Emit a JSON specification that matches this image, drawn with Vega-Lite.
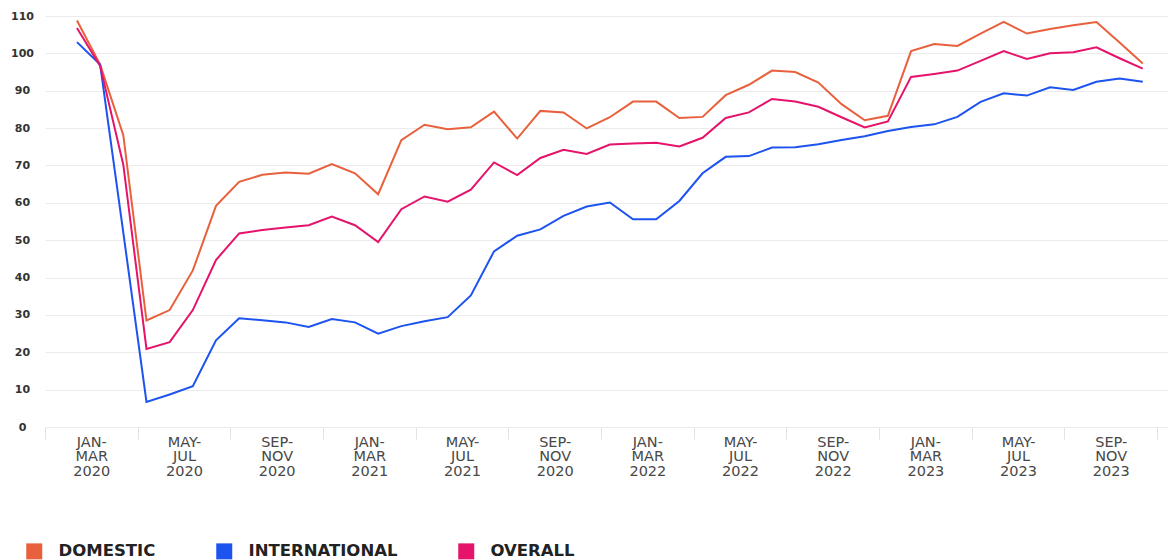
{
  "$schema": "https://vega.github.io/schema/vega-lite/v6.json",
  "autosize": {"type": "none"},
  "padding": {"left": 45, "top": 16, "right": 0, "bottom": 133},
  "width": 1123,
  "height": 411,
  "background": "white",
  "config": {
    "view": {"stroke": null},
    "font": "DejaVu Sans"
  },
  "data": {
    "values": [
      {"m": 0, "DOMESTIC": 108.8, "INTERNATIONAL": 103.0, "OVERALL": 106.8},
      {"m": 1, "DOMESTIC": 97.0, "INTERNATIONAL": 97.0, "OVERALL": 96.6},
      {"m": 2, "DOMESTIC": 78.1, "INTERNATIONAL": 52.0, "OVERALL": 70.2},
      {"m": 3, "DOMESTIC": 28.5, "INTERNATIONAL": 6.7, "OVERALL": 20.9},
      {"m": 4, "DOMESTIC": 31.3, "INTERNATIONAL": 8.7, "OVERALL": 22.7},
      {"m": 5, "DOMESTIC": 41.9, "INTERNATIONAL": 10.9, "OVERALL": 31.3},
      {"m": 6, "DOMESTIC": 59.2, "INTERNATIONAL": 23.2, "OVERALL": 44.7},
      {"m": 7, "DOMESTIC": 65.6, "INTERNATIONAL": 29.1, "OVERALL": 51.8},
      {"m": 8, "DOMESTIC": 67.5, "INTERNATIONAL": 28.6, "OVERALL": 52.7},
      {"m": 9, "DOMESTIC": 68.1, "INTERNATIONAL": 28.0, "OVERALL": 53.4},
      {"m": 10, "DOMESTIC": 67.8, "INTERNATIONAL": 26.8, "OVERALL": 54.0},
      {"m": 11, "DOMESTIC": 70.4, "INTERNATIONAL": 28.9, "OVERALL": 56.3},
      {"m": 12, "DOMESTIC": 67.9, "INTERNATIONAL": 28.0, "OVERALL": 54.0},
      {"m": 13, "DOMESTIC": 62.3, "INTERNATIONAL": 25.0, "OVERALL": 49.5},
      {"m": 14, "DOMESTIC": 76.8, "INTERNATIONAL": 27.0, "OVERALL": 58.3},
      {"m": 15, "DOMESTIC": 80.9, "INTERNATIONAL": 28.3, "OVERALL": 61.7},
      {"m": 16, "DOMESTIC": 79.7, "INTERNATIONAL": 29.4, "OVERALL": 60.3},
      {"m": 17, "DOMESTIC": 80.2, "INTERNATIONAL": 35.2, "OVERALL": 63.5},
      {"m": 18, "DOMESTIC": 84.4, "INTERNATIONAL": 47.0, "OVERALL": 70.8},
      {"m": 19, "DOMESTIC": 77.2, "INTERNATIONAL": 51.2, "OVERALL": 67.4},
      {"m": 20, "DOMESTIC": 84.6, "INTERNATIONAL": 52.9, "OVERALL": 72.0},
      {"m": 21, "DOMESTIC": 84.2, "INTERNATIONAL": 56.5, "OVERALL": 74.2},
      {"m": 22, "DOMESTIC": 79.9, "INTERNATIONAL": 59.0, "OVERALL": 73.1},
      {"m": 23, "DOMESTIC": 82.9, "INTERNATIONAL": 60.1, "OVERALL": 75.6},
      {"m": 24, "DOMESTIC": 87.1, "INTERNATIONAL": 55.6, "OVERALL": 75.9},
      {"m": 25, "DOMESTIC": 87.1, "INTERNATIONAL": 55.6, "OVERALL": 76.1},
      {"m": 26, "DOMESTIC": 82.7, "INTERNATIONAL": 60.5, "OVERALL": 75.1},
      {"m": 27, "DOMESTIC": 83.0, "INTERNATIONAL": 67.9, "OVERALL": 77.4},
      {"m": 28, "DOMESTIC": 88.8, "INTERNATIONAL": 72.3, "OVERALL": 82.7},
      {"m": 29, "DOMESTIC": 91.6, "INTERNATIONAL": 72.5, "OVERALL": 84.2},
      {"m": 30, "DOMESTIC": 95.4, "INTERNATIONAL": 74.8, "OVERALL": 87.8},
      {"m": 31, "DOMESTIC": 95.0, "INTERNATIONAL": 74.9, "OVERALL": 87.1},
      {"m": 32, "DOMESTIC": 92.2, "INTERNATIONAL": 75.7, "OVERALL": 85.7},
      {"m": 33, "DOMESTIC": 86.4, "INTERNATIONAL": 76.8, "OVERALL": 82.9},
      {"m": 34, "DOMESTIC": 82.1, "INTERNATIONAL": 77.8, "OVERALL": 80.2},
      {"m": 35, "DOMESTIC": 83.3, "INTERNATIONAL": 79.2, "OVERALL": 81.8},
      {"m": 36, "DOMESTIC": 100.6, "INTERNATIONAL": 80.3, "OVERALL": 93.7},
      {"m": 37, "DOMESTIC": 102.5, "INTERNATIONAL": 81.0, "OVERALL": 94.5},
      {"m": 38, "DOMESTIC": 102.0, "INTERNATIONAL": 83.0, "OVERALL": 95.4},
      {"m": 39, "DOMESTIC": 105.3, "INTERNATIONAL": 87.0, "OVERALL": 98.0},
      {"m": 40, "DOMESTIC": 108.4, "INTERNATIONAL": 89.3, "OVERALL": 100.6},
      {"m": 41, "DOMESTIC": 105.3, "INTERNATIONAL": 88.7, "OVERALL": 98.5},
      {"m": 42, "DOMESTIC": 106.5, "INTERNATIONAL": 90.9, "OVERALL": 100.0},
      {"m": 43, "DOMESTIC": 107.5, "INTERNATIONAL": 90.2, "OVERALL": 100.3},
      {"m": 44, "DOMESTIC": 108.4, "INTERNATIONAL": 92.4, "OVERALL": 101.6},
      {"m": 45, "DOMESTIC": 102.9, "INTERNATIONAL": 93.3, "OVERALL": 98.7},
      {"m": 46, "DOMESTIC": 97.3, "INTERNATIONAL": 92.4, "OVERALL": 95.9}
    ]
  },
  "transform": [
    {"fold": ["DOMESTIC", "INTERNATIONAL", "OVERALL"], "as": ["series", "value"]}
  ],
  "mark": {"type": "line", "strokeWidth": 2, "clip": false},
  "encoding": {
    "x": {
      "field": "m",
      "type": "quantitative",
      "scale": {"domain": [-1.38, 47.09], "nice": false, "zero": false},
      "axis": {
        "title": null,
        "grid": false,
        "domain": false,
        "values": [-1.38, 2.62, 6.62, 10.62, 14.62, 18.62, 22.62, 26.62, 30.62, 34.62, 38.62, 42.62, 46.62],
        "tickSize": 12,
        "tickColor": "#e2e2e2",
        "tickWidth": 1,
        "labelOffset": 46.3,
        "labelPadding": -4,
        "labelAlign": "center",
        "labelBaseline": "top",
        "labelFlush": false,
        "labelOverlap": false,
        "labelBound": false,
        "labelFont": "DejaVu Sans",
        "labelFontSize": 14.5,
        "labelColor": "#484848",
        "labelLineHeight": 14.5,
        "labelExpr": "[['JAN-','MAR','2020'],['MAY-','JUL','2020'],['SEP-','NOV','2020'],['JAN-','MAR','2021'],['MAY-','JUL','2021'],['SEP-','NOV','2020'],['JAN-','MAR','2022'],['MAY-','JUL','2022'],['SEP-','NOV','2022'],['JAN-','MAR','2023'],['MAY-','JUL','2023'],['SEP-','NOV','2023'],''][round((datum.value+1.38)/4)]"
      }
    },
    "y": {
      "field": "value",
      "type": "quantitative",
      "scale": {"domain": [0, 110], "nice": false},
      "axis": {
        "title": null,
        "values": [0, 10, 20, 30, 40, 50, 60, 70, 80, 90, 100, 110],
        "domain": false,
        "ticks": false,
        "tickSize": 0,
        "grid": true,
        "gridColor": "#ebebeb",
        "gridWidth": 1,
        "labelAlign": "center",
        "labelPadding": 23,
        "labelFont": "DejaVu Sans",
        "labelFontSize": 11,
        "labelFontWeight": "bold",
        "labelColor": "#333333"
      }
    },
    "color": {
      "field": "series",
      "type": "nominal",
      "scale": {
        "domain": ["DOMESTIC", "INTERNATIONAL", "OVERALL"],
        "range": ["#e8603c", "#1d53ee", "#e5136a"]
      },
      "legend": {
        "title": null,
        "orient": "none",
        "direction": "horizontal",
        "legendX": -19,
        "legendY": 527,
        "symbolType": "square",
        "symbolSize": 256,
        "symbolStrokeWidth": 0,
        "labelOffset": 16,
        "columnPadding": 60,
        "labelFont": "DejaVu Sans",
        "labelFontSize": 16.5,
        "labelFontWeight": "bold",
        "labelColor": "#222222",
        "encode": {
          "symbols": {
            "update": {
              "fill": {"scale": "color", "field": "value"},
              "stroke": {"value": "transparent"}
            }
          }
        }
      }
    }
  }
}
